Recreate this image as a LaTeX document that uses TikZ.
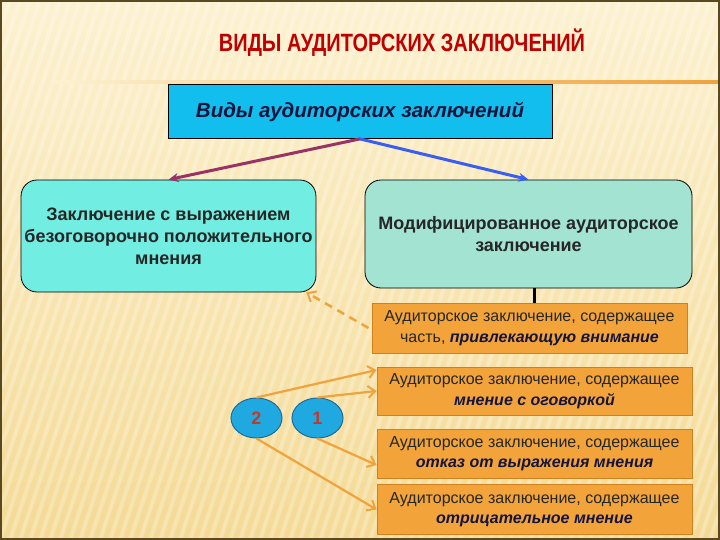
\documentclass[tikz,border=0pt]{standalone}
\usepackage{fontspec}
\setmainfont{Liberation Sans}
\newfontfamily\titlefont[FakeStretch=0.8]{Liberation Sans}
\usetikzlibrary{shapes.geometric,arrows.meta}
\definecolor{bgtop}{HTML}{FCF1D0}
\definecolor{bgbot}{HTML}{F4DA95}
\definecolor{frame}{HTML}{5A4820}
\definecolor{titlered}{HTML}{C00000}
\definecolor{topblue}{HTML}{12BEEE}
\definecolor{turq}{HTML}{72EDE2}
\definecolor{teal}{HTML}{A3E3D2}
\definecolor{orfill}{HTML}{F2A43A}
\definecolor{ordraw}{HTML}{D0801C}
\definecolor{orline}{HTML}{F0A33C}
\definecolor{navy}{HTML}{14143C}
\definecolor{purp}{HTML}{993366}
\definecolor{arrblue}{HTML}{3A5FF0}
\definecolor{elfill}{HTML}{1FA9E0}
\definecolor{eldraw}{HTML}{1F6A9A}
\definecolor{numred}{HTML}{C0392B}
\tikzset{
  topbox/.style={draw=black, line width=0.8pt, fill=topblue, minimum width=384pt, minimum height=54pt,
    font=\fontsize{20.5}{24}\selectfont\bfseries\itshape, text=navy},
  bigbox/.style={draw=black, line width=0.8pt, rounded corners=16pt, align=center,
    font=\fontsize{18}{22}\selectfont\bfseries, text=black!85},
  orbox/.style={draw=ordraw, line width=1pt, fill=orfill, minimum width=315pt, align=center,
    font=\fontsize{16}{20.5}\selectfont, text=black!85},
  numel/.style={ellipse, draw=eldraw, line width=1pt, fill=elfill, minimum width=51pt, minimum height=40pt,
    font=\fontsize{18}{18}\selectfont\bfseries, text=numred},
  orarrow/.style={draw=orline, line width=2.2pt, -{Straight Barb[length=7pt,width=12pt,line width=2pt]}},
}
\newcommand{\emtext}[1]{{\bfseries\itshape\color{navy}#1}}
\begin{document}
\begin{tikzpicture}[x=1pt,y=-1pt]
\useasboundingbox (0,0) rectangle (720,540);
% background
\shade[top color=bgtop, bottom color=bgbot] (0,0) rectangle (720,540);
\begin{scope}
\clip (0,0) rectangle (720,540);
\foreach \i in {-20,...,75} {
  \draw[white, opacity=0.25, line width=4pt] (\i*10,540) -- ++(180,-540);
}
\end{scope}
\shade[left color=bgtop, right color=orline] (55,81) rectangle (720,83.5);
\draw[frame, line width=2pt] (1,1) rectangle (719,539);
% title
\node[font=\titlefont\fontsize{25}{25}\selectfont\bfseries, text=titlered] (title) at (402,43) {ВИДЫ АУДИТОРСКИХ ЗАКЛЮЧЕНИЙ};
% boxes
\node[topbox] (top) at (360,111.5) {Виды аудиторских заключений};
\node[bigbox, fill=turq, minimum width=293pt, minimum height=112pt] (left) at (168.5,236)
  {Заключение с выражением\\безоговорочно положительного\\мнения};
\node[bigbox, fill=teal, minimum width=327pt, minimum height=108pt] (right) at (528.5,234)
  {Модифицированное аудиторское\\заключение};
\node[orbox, minimum height=50pt] (o1) at (529.5,328) {Аудиторское заключение, содержащее\\часть, \emtext{привлекающую внимание}};
\node[orbox, minimum height=48pt] (o2) at (534.5,391) {Аудиторское заключение, содержащее\\\emtext{мнение с оговоркой}};
\node[orbox, minimum height=49pt] (o3) at (534.5,453.5) {Аудиторское заключение, содержащее\\\emtext{отказ от выражения мнения}};
\node[orbox, minimum height=50pt] (o4) at (534.5,509.5) {Аудиторское заключение, содержащее\\\emtext{отрицательное мнение}};
\node[numel] (e2) at (256.5,418) {2};
\node[numel] (e1) at (317.5,418) {1};
% connectors
\draw[purp, line width=3pt, -{Stealth[length=10pt,width=9pt]}] (top.south) -- (left.north);
\draw[arrblue, line width=3pt, -{Stealth[length=10pt,width=9pt]}] (top.south) -- (right.north);
\draw[black, line width=3pt] ([xshift=6pt]right.south) -- ([xshift=6pt]right.south |- o1.north);
\coordinate (lcorner) at ([xshift=-10pt]left.south east);
\draw[orline, line width=2.5pt, dash pattern=on 8pt off 6pt, -{Straight Barb[length=7pt,width=12pt,line width=2pt]}]
  ([xshift=-3pt]o1.west) -- (lcorner);
\draw[orarrow] (e2.north) -- ([yshift=21pt]o2.west);
\draw[orarrow] (e1.north) -- (o2.west);
\draw[orarrow] (e1.south) -- ([yshift=-11.5pt]o3.west);
\draw[orarrow] (e2.south) -- (o4.west);
\end{tikzpicture}
\end{document}
